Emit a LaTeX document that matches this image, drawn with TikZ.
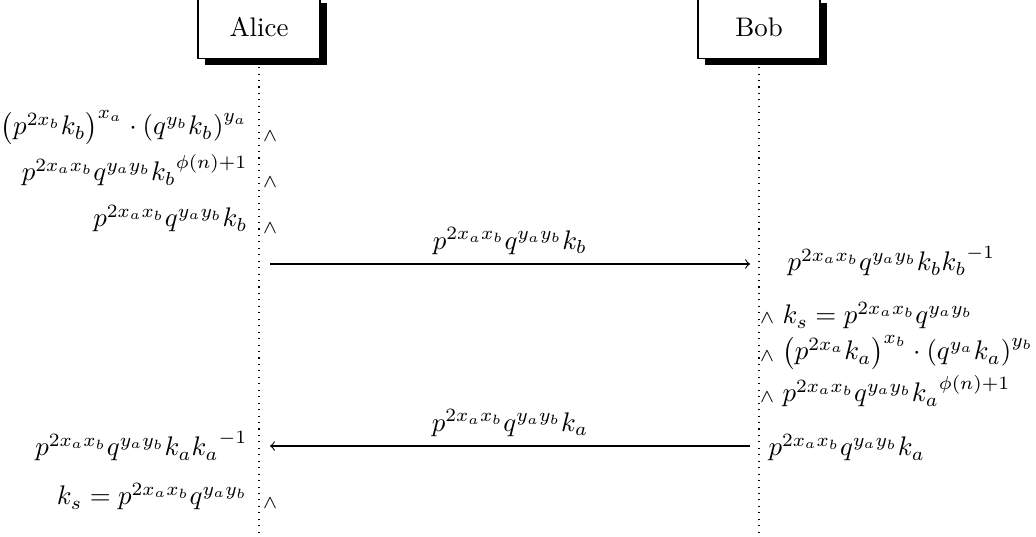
\documentclass[tikz,border=0pt]{standalone}
\usetikzlibrary{shadows}
\begin{document}
\begin{tikzpicture}[x=0.372pt, y=-0.372pt,
    actor/.style={draw, fill=white, minimum width=45.4pt, minimum height=23.1pt,
      drop shadow={shadow xshift=2.5pt, shadow yshift=-2.5pt, fill=black, opacity=1}},
    lifeline/.style={dotted},
    msg/.style={->},
    lcalc/.style={anchor=base east, inner sep=0pt},
    rcalc/.style={anchor=base west, inner sep=0pt},
    wedgemark/.style={inner sep=0pt, font=\scriptsize}]
  \useasboundingbox (0,0) rectangle (1036,537);
  % actors and lifelines
  \node[actor] (alice) at (259,27.5) {Alice};
  \node[actor] (bob) at (759,27.5) {Bob};
  \coordinate (aliceend) at (259,537);
  \coordinate (bobend) at (759,537);
  \draw[lifeline] ([yshift=-3pt]alice.south) -- (aliceend);
  \draw[lifeline] ([yshift=-3pt]bob.south) -- (bobend);
  % Alice computes
  \node[lcalc] (a1) at (248,135) {$\left(p^{2x_b}k_b\right)^{x_a}\cdot\left(q^{y_b}k_b\right)^{y_a}$};
  \node[lcalc] (a2) at (248,181) {$p^{2x_ax_b}q^{y_ay_b}{k_b}^{\phi(n)+1}$};
  \node[lcalc] (a3) at (248,227) {$p^{2x_ax_b}q^{y_ay_b}k_b$};
  \foreach \y/\n in {136/1,182/2,228/3}
    \node[wedgemark] (aw\n) at (270,\y) {$\wedge$};
  % first message
  \coordinate (m1start) at (270,264);
  \coordinate (m1end) at (750,264);
  \draw[msg] (m1start) -- node[above] (m1label) {$p^{2x_ax_b}q^{y_ay_b}k_b$} (m1end);
  % Bob computes
  \node[rcalc] (b1) at (787,271) {$p^{2x_ax_b}q^{y_ay_b}k_b{k_b}^{-1}$};
  \node[rcalc] (b2) at (782,324) {$k_s=p^{2x_ax_b}q^{y_ay_b}$};
  \node[rcalc] (b3) at (782,360) {$\left(p^{2x_a}k_a\right)^{x_b}\cdot\left(q^{y_a}k_a\right)^{y_b}$};
  \node[rcalc] (b4) at (782,402) {$p^{2x_ax_b}q^{y_ay_b}{k_a}^{\phi(n)+1}$};
  \foreach \y/\n in {318/2,356/3,397/4}
    \node[wedgemark] (bw\n) at (767,\y) {$\wedge$};
  % second message
  \coordinate (m2start) at (750,446);
  \coordinate (m2end) at (270,446);
  \draw[msg] (m2start) -- node[above] (m2label) {$p^{2x_ax_b}q^{y_ay_b}k_a$} (m2end);
  \node[rcalc] (b5) at (768,456) {$p^{2x_ax_b}q^{y_ay_b}k_a$};
  % Alice gets the key
  \node[lcalc] (a4) at (248,456) {$p^{2x_ax_b}q^{y_ay_b}k_a{k_a}^{-1}$};
  \node[lcalc] (a5) at (248,505) {$k_s=p^{2x_ax_b}q^{y_ay_b}$};
  \node[wedgemark] (aw5) at (270,503) {$\wedge$};
\end{tikzpicture}
\end{document}
